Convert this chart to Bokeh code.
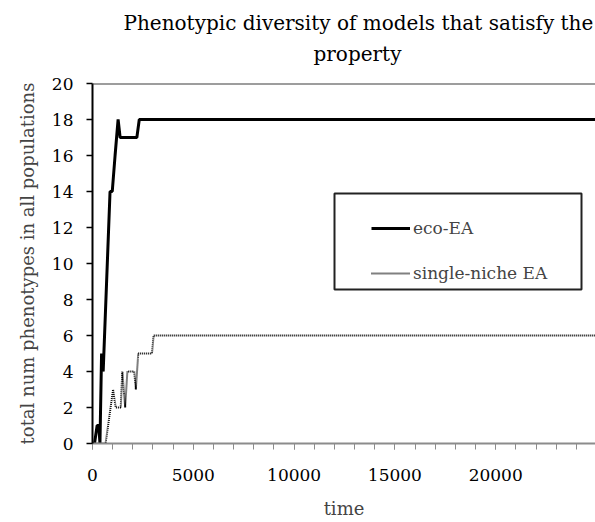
from bokeh.plotting import figure
from bokeh.embed import file_html
from bokeh.resources import INLINE
from bokeh.models import (Range1d, SingleIntervalTicker, Legend, LegendItem,
                          BoxAnnotation, Span, Title)

# ---- data ----
eco_time = [0, 100, 230, 310, 370, 450, 530, 870, 980, 1120, 1270, 1370, 2200, 2320, 25000]
eco_vals = [0, 0, 1, 1, 0, 5, 4, 14, 14, 16, 18, 17, 17, 18, 18]

single_time = [0, 650, 1020, 1150, 1400, 1480, 1620, 1730, 2070, 2150, 2270, 2950, 3030, 25000]
single_vals = [0, 0, 3, 2, 2, 4, 2, 4, 4, 3, 5, 5, 6, 6]

series_names = ["eco-EA", "single-niche EA"]
title_lines = ["Phenotypic diversity of models that satisfy the", "property"]
x_label = "time"
y_label = "total num phenotypes in all populations"

FONT = "DejaVu Serif"

p = figure(width=595, height=522, output_backend="svg", toolbar_location=None,
           x_range=Range1d(0, 24950), y_range=Range1d(0, 20),
           min_border_left=92, min_border_right=0, min_border_top=83,
           min_border_bottom=79, outline_line_color=None)
p.background_fill_color = "white"
p.border_fill_color = "white"
p.grid.visible = False

# title: two lines, each positioned from the left edge of the plot area
t2 = Title(text=title_lines[1], align="left", offset=221, text_font=FONT,
           text_font_size="20px", text_font_style="normal", text_color="black",
           standoff=35)
p.add_layout(t2, "above")
t1 = Title(text=title_lines[0], align="left", offset=31, text_font=FONT,
           text_font_size="20px", text_font_style="normal", text_color="black",
           standoff=-25)
p.add_layout(t1, "above")

# x axis
xa = p.xaxis[0]
xa.ticker = SingleIntervalTicker(interval=5000, num_minor_ticks=5)
xa.axis_line_color = "#8c8c8c"
xa.axis_line_width = 2
xa.major_tick_line_color = "#8c8c8c"
xa.minor_tick_line_color = "#8c8c8c"
xa.major_tick_out = 6
xa.major_tick_in = 0
xa.minor_tick_out = 6
xa.minor_tick_in = 0
xa.major_label_text_font = FONT
xa.major_label_text_font_size = "17px"
xa.major_label_text_color = "black"
xa.major_label_standoff = 19
xa.axis_label = x_label
xa.axis_label_text_font = FONT
xa.axis_label_text_font_size = "18px"
xa.axis_label_text_font_style = "normal"
xa.axis_label_standoff = 14

# y axis
ya = p.yaxis[0]
ya.ticker = SingleIntervalTicker(interval=2, num_minor_ticks=0)
ya.axis_line_color = "black"
ya.axis_line_width = 2
ya.major_tick_line_color = "black"
ya.major_tick_line_width = 1.5
ya.major_tick_out = 6
ya.major_tick_in = 0
ya.minor_tick_line_color = None
ya.major_label_text_font = FONT
ya.major_label_text_font_size = "17px"
ya.major_label_text_color = "black"
ya.major_label_standoff = 13
ya.axis_label = y_label
ya.axis_label_text_font = FONT
ya.axis_label_text_font_size = "18px"
ya.axis_label_text_font_style = "normal"
ya.axis_label_standoff = 11

# top border of plot area
p.add_layout(Span(location=20, dimension="width", line_color="#3c3c3c", line_width=2))

r1 = p.line(eco_time, eco_vals, line_color="black", line_width=3)
r2 = p.line(single_time, single_vals, line_color="black", line_width=2, line_dash="1 1")

box = BoxAnnotation(left=334, right=581, top=193, bottom=289,
                    left_units="canvas", right_units="canvas",
                    top_units="canvas", bottom_units="canvas",
                    fill_color="white", fill_alpha=1,
                    line_color="#222222", line_alpha=1, line_width=2)
p.add_layout(box)

legend = Legend(items=[LegendItem(label=series_names[0], renderers=[r1]),
                       LegendItem(label=series_names[1], renderers=[r2])],
                location=(279, 160), padding=0, spacing=25, margin=0,
                glyph_width=39, glyph_height=20, label_height=20, label_standoff=3,
                border_line_alpha=0, background_fill_alpha=0,
                label_text_font=FONT, label_text_font_size="17px")
p.add_layout(legend)

open("out.html", "w").write(file_html(p, INLINE))
